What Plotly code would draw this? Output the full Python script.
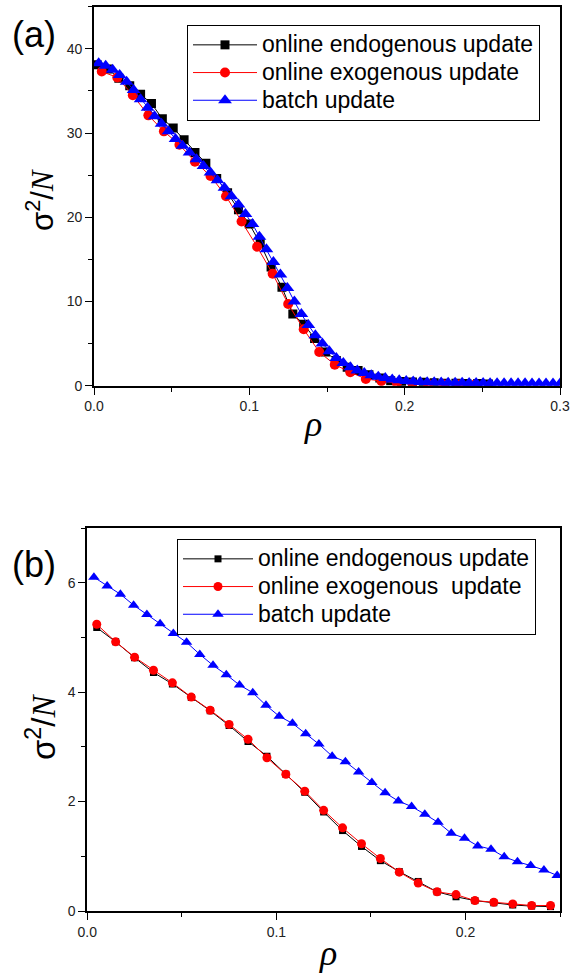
import plotly.graph_objects as go

W, H = 575, 974

# ---------------- Panel (a) data ----------------
a_endo_x = [0.002, 0.009, 0.016, 0.023, 0.030, 0.037, 0.044, 0.051, 0.058, 0.065,
            0.072, 0.079, 0.086, 0.093, 0.100, 0.107, 0.114, 0.121, 0.128, 0.135,
            0.142, 0.149, 0.156, 0.163, 0.170, 0.177, 0.184, 0.191, 0.198, 0.205,
            0.212, 0.219, 0.226, 0.233, 0.240, 0.247, 0.254]
a_endo_y = [38.1, 37.6, 36.5, 35.6, 34.6, 33.5, 31.7, 30.6, 29.2, 27.7,
            26.4, 24.6, 22.9, 20.9, 19.2, 16.9, 14.1, 11.7, 8.5, 7.3,
            5.6, 4.0, 3.0, 2.2, 1.8, 1.3, 0.9, 0.6, 0.5, 0.45,
            0.4, 0.35, 0.3, 0.3, 0.25, 0.25, 0.2]

a_exo_x = [0.005, 0.015, 0.025, 0.035, 0.045, 0.055, 0.065, 0.075, 0.085, 0.095,
           0.105, 0.115, 0.125, 0.135, 0.145, 0.155, 0.165, 0.175, 0.185, 0.195,
           0.205, 0.215, 0.225, 0.235, 0.245]
a_exo_y = [37.3, 36.6, 34.5, 32.1, 30.2, 28.6, 26.6, 24.9, 22.5, 19.5,
           16.5, 13.3, 9.7, 6.7, 4.0, 2.5, 1.6, 0.8, 0.55, 0.3,
           0.25, 0.2, 0.15, 0.15, 0.1]

a_batch_x = [0.003, 0.0075, 0.012, 0.0165, 0.021, 0.0255, 0.030, 0.0345, 0.039, 0.0435,
             0.048, 0.0525, 0.057, 0.0615, 0.066, 0.0705, 0.075, 0.0795, 0.084, 0.0885,
             0.093, 0.0975, 0.102, 0.1065, 0.111, 0.1155, 0.120, 0.1245, 0.129, 0.1335,
             0.138, 0.1425, 0.147, 0.1515, 0.156, 0.1605, 0.165, 0.1695, 0.174, 0.1785,
             0.183, 0.1875, 0.192, 0.1965, 0.201, 0.2055, 0.210, 0.2145, 0.219, 0.2235,
             0.228, 0.2325, 0.237, 0.2415, 0.246, 0.2505, 0.255, 0.2595, 0.264, 0.2685,
             0.273, 0.2775, 0.282, 0.2865, 0.291, 0.2955, 0.300]
a_batch_y = [38.3, 38.0, 37.5, 36.9, 36.1, 35.1, 34.0, 33.0, 32.0, 31.1,
             30.2, 29.3, 28.5, 27.7, 26.9, 26.1, 25.3, 24.4, 23.5, 22.5,
             21.5, 20.4, 19.2, 17.7, 16.2, 14.7, 13.2, 11.6, 10.0, 8.5,
             7.2, 6.0, 5.0, 4.1, 3.3, 2.7, 2.2, 1.8, 1.5, 1.25,
             1.05, 0.9, 0.75, 0.65, 0.55, 0.5, 0.45, 0.42, 0.4, 0.38,
             0.36, 0.35, 0.34, 0.33, 0.32, 0.31, 0.3, 0.3, 0.29, 0.29,
             0.28, 0.28, 0.27, 0.27, 0.27, 0.26, 0.26]

# ---------------- Panel (b) data ----------------
b_x = [0.005, 0.015, 0.025, 0.035, 0.045, 0.055, 0.065, 0.075, 0.085, 0.095,
       0.105, 0.115, 0.125, 0.135, 0.145, 0.155, 0.165, 0.175, 0.185, 0.195,
       0.205, 0.215, 0.225, 0.235, 0.245]
b_endo_y = [5.18, 4.92, 4.63, 4.36, 4.15, 3.90, 3.66, 3.39, 3.10, 2.83,
            2.50, 2.17, 1.81, 1.47, 1.18, 0.92, 0.72, 0.54, 0.35, 0.26,
            0.19, 0.15, 0.11, 0.09, 0.08]
b_exo_y = [5.24, 4.92, 4.64, 4.40, 4.17, 3.91, 3.67, 3.41, 3.14, 2.80,
           2.50, 2.19, 1.84, 1.52, 1.23, 0.96, 0.71, 0.51, 0.35, 0.30,
           0.19, 0.16, 0.13, 0.10, 0.10]
b_batch_x = [0.0035, 0.0105, 0.0175, 0.0245, 0.0315, 0.0385, 0.0455, 0.0525, 0.0595, 0.0665,
             0.0735, 0.0805, 0.0875, 0.0945, 0.1015, 0.1085, 0.1155, 0.1225, 0.1295, 0.1365,
             0.1435, 0.1505, 0.1575, 0.1645, 0.1715, 0.1785, 0.1855, 0.1925, 0.1995, 0.2065,
             0.2135, 0.2205, 0.2275, 0.2345, 0.2415, 0.2485]
b_batch_y = [6.10, 5.94, 5.79, 5.59, 5.42, 5.25, 5.07, 4.91, 4.69, 4.49,
             4.32, 4.13, 3.99, 3.76, 3.56, 3.43, 3.24, 3.05, 2.83, 2.73,
             2.54, 2.35, 2.16, 2.01, 1.91, 1.77, 1.62, 1.42, 1.33, 1.19,
             1.13, 0.99, 0.90, 0.83, 0.75, 0.65]

names_a = ["online endogenous update", "online exogenous update", "batch update"]
names_b = ["online endogenous update", "online exogenous  update", "batch update"]

SANS = "Arial, Liberation Sans, sans-serif"
SERIF = "Times New Roman, Liberation Serif, serif"

fig = go.Figure()

def big(s):
    return '<span style="font-size:23px">' + s.replace("  ", " &nbsp;") + '</span>'

def add(x, y, name, color, symbol, size, xa, ya, legend):
    fig.add_trace(go.Scatter(
        x=x, y=y, name=big(name), mode="lines+markers",
        line=dict(color=color, width=1),
        marker=dict(color=color, symbol=symbol, size=size, line=dict(width=0)),
        xaxis=xa, yaxis=ya, legend=legend))

add(a_endo_x, a_endo_y, names_a[0], "black", "square", 9, "x", "y", "legend")
add(a_exo_x, a_exo_y, names_a[1], "red", "circle", 10, "x", "y", "legend")
add(a_batch_x, a_batch_y, names_a[2], "blue", "triangle-up", 12, "x", "y", "legend")

add(b_x, b_endo_y, names_b[0], "black", "square", 7, "x2", "y2", "legend2")
add(b_x, b_exo_y, names_b[1], "red", "circle", 9, "x2", "y2", "legend2")
add(b_batch_x, b_batch_y, names_b[2], "blue", "triangle-up", 10, "x2", "y2", "legend2")

def px_x(p):
    return p / W

def px_y(p):
    return 1 - p / H

tickfont = dict(family=SANS, size=14, color="#222")
LW = 1.8

def main_axis(domain, anchor, rng, dtick, minor_dtick, fmt=None):
    d = dict(domain=domain, anchor=anchor, range=rng, dtick=dtick, tick0=0,
             showline=True, linecolor="black", linewidth=LW, mirror=True,
             ticks="outside", ticklen=7, tickwidth=1, tickcolor="black",
             minor=dict(ticks="outside", ticklen=4, dtick=minor_dtick, tick0=0, tickcolor="black"),
             showgrid=False, zeroline=False, tickfont=tickfont, automargin=False)
    if fmt:
        d["tickformat"] = fmt
    return d

def mirror_axis(overlay, side, anchor, rng, dtick, minor_dtick):
    return dict(overlaying=overlay, side=side, anchor=anchor, range=rng, dtick=dtick, tick0=0,
                showline=False, ticks="inside", ticklen=7, tickwidth=1, tickcolor="black",
                minor=dict(ticks="inside", ticklen=4, dtick=minor_dtick, tick0=0, tickcolor="black"),
                showticklabels=False, showgrid=False, zeroline=False, automargin=False)

xa_dom = [px_x(94), px_x(560)]
ya_dom = [px_y(385.7), px_y(6.7)]
xb_dom = [px_x(87.3), px_x(560)]
yb_dom = [px_y(911), px_y(528)]

leg_common = dict(xanchor="left", yanchor="top", bgcolor="white", bordercolor="black",
                  borderwidth=1, font=dict(family=SANS, size=19, color="black"),
                  tracegroupgap=0)

fig.update_layout(
    width=W, height=H,
    margin=dict(l=0, r=0, t=0, b=0),
    paper_bgcolor="white", plot_bgcolor="white",
    xaxis=main_axis(xa_dom, "y", [0, 0.3], 0.1, 0.05, ".1f"),
    yaxis=main_axis(ya_dom, "x", [0, 45], 10, 5),
    xaxis2=main_axis(xb_dom, "y2", [0, 0.25], 0.1, 0.05, ".1f"),
    yaxis2=main_axis(yb_dom, "x2", [0, 7], 2, 1),
    xaxis3=mirror_axis("x", "top", "y", [0, 0.3], 0.1, 0.05),
    yaxis3=mirror_axis("y", "right", "x", [0, 45], 10, 5),
    xaxis4=mirror_axis("x2", "top", "y2", [0, 0.25], 0.1, 0.05),
    yaxis4=mirror_axis("y2", "right", "x2", [0, 7], 2, 1),
    legend=dict(x=px_x(187), y=px_y(25), itemwidth=64, **leg_common),
    legend2=dict(x=px_x(177), y=px_y(539), itemwidth=70, **leg_common),
    showlegend=True,
)

ann = []
def text(x, y, s, size, family=SANS, angle=0):
    ann.append(dict(x=px_x(x), y=px_y(y), xref="paper", yref="paper", text=s,
                    showarrow=False, xanchor="center", yanchor="middle",
                    font=dict(family=family, size=size, color="black"), textangle=angle))

text(34, 34, "(a)", 36)
text(34, 564, "(b)", 36)
ytitle = ("σ<sup>2</sup>/<span style=\"font-family:Liberation Serif, serif\"><i>N</i></span>")
text(40, 200, ytitle, 31, SANS, -90)
text(41, 727, ytitle, 33, SANS, -90)
text(313, 424, "<i>ρ</i>", 36, SERIF)
text(328, 953, "<i>ρ</i>", 36, SERIF)
fig.update_layout(annotations=ann)

fig.write_html("out.html")
